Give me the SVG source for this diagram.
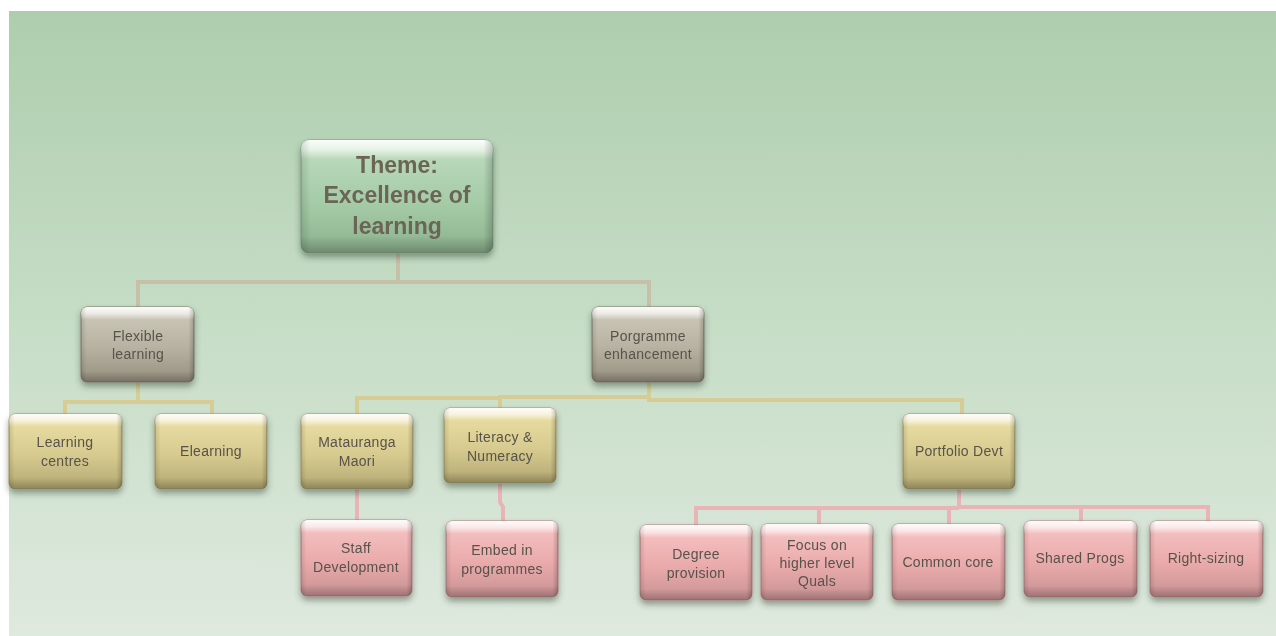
<svg xmlns="http://www.w3.org/2000/svg" width="1276" height="636" viewBox="0 0 1276 636">
  <defs>
    <linearGradient id="bg" x1="0" y1="0" x2="0" y2="1">
      <stop offset="0" stop-color="#aecdae"/>
      <stop offset="0.5" stop-color="#c6ddc6"/>
      <stop offset="1" stop-color="#dfe9de"/>
    </linearGradient>
    <linearGradient id="gGreen" x1="0" y1="0" x2="0" y2="1">
      <stop offset="0" stop-color="#c0dec2"/>
      <stop offset="0.55" stop-color="#a5cba7"/>
      <stop offset="1" stop-color="#8cb18e"/>
    </linearGradient>
    <linearGradient id="gGray" x1="0" y1="0" x2="0" y2="1">
      <stop offset="0" stop-color="#d0ccbc"/>
      <stop offset="0.55" stop-color="#b6b1a0"/>
      <stop offset="1" stop-color="#96907f"/>
    </linearGradient>
    <linearGradient id="gYellow" x1="0" y1="0" x2="0" y2="1">
      <stop offset="0" stop-color="#ece1a6"/>
      <stop offset="0.55" stop-color="#d6ca8f"/>
      <stop offset="1" stop-color="#b3a872"/>
    </linearGradient>
    <linearGradient id="gPink" x1="0" y1="0" x2="0" y2="1">
      <stop offset="0" stop-color="#f7c6c6"/>
      <stop offset="0.55" stop-color="#eaaaab"/>
      <stop offset="1" stop-color="#c89293"/>
    </linearGradient>
    <!-- glossy bevel overlay shared by all boxes -->
    <linearGradient id="gloss" x1="0" y1="0" x2="0" y2="1">
      <stop offset="0" stop-color="#ffffff" stop-opacity="0.95"/>
      <stop offset="0.09" stop-color="#ffffff" stop-opacity="0.6"/>
      <stop offset="0.17" stop-color="#ffffff" stop-opacity="0"/>
      <stop offset="0.85" stop-color="#000000" stop-opacity="0"/>
      <stop offset="1" stop-color="#000000" stop-opacity="0.22"/>
    </linearGradient>
    <linearGradient id="sideGloss" x1="0" y1="0" x2="1" y2="0">
      <stop offset="0" stop-color="#000000" stop-opacity="0.12"/>
      <stop offset="0.05" stop-color="#000000" stop-opacity="0"/>
      <stop offset="0.95" stop-color="#000000" stop-opacity="0"/>
      <stop offset="1" stop-color="#000000" stop-opacity="0.2"/>
    </linearGradient>
    <filter id="shadow" x="-20%" y="-20%" width="140%" height="150%">
      <feDropShadow dx="0" dy="4" stdDeviation="3" flood-color="#2c3a2c" flood-opacity="0.45"/>
    </filter>
  </defs>
  <style>
    .box { filter: url(#shadow); }
    .gloss { fill: url(#gloss); }
    .side { fill: url(#sideGloss); }
    .green .base { fill: url(#gGreen); stroke: #7f9f80; stroke-width: 1; }
    .gray .base { fill: url(#gGray); stroke: #7f7a6c; stroke-width: 1; }
    .yellow .base { fill: url(#gYellow); stroke: #a09562; stroke-width: 1; }
    .pink .base { fill: url(#gPink); stroke: #b07e80; stroke-width: 1; }
    text { font-family: "Liberation Sans", Arial, sans-serif; text-anchor: middle; fill: #57534a; font-size: 14px; letter-spacing: 0.3px; }
    .title { font-size: 23px; font-weight: bold; fill: #6b6554; letter-spacing: 0; }
    .conn { fill: none; stroke-width: 4; stroke-linejoin: miter; }
    .c1 { stroke: #c6c0a9; }
    .c2 { stroke: #d7cc94; }
    .c3 { stroke: #e9b4b5; }
  </style>

  <rect x="9" y="11" width="1267" height="625" fill="url(#bg)"/>

  <g id="connectors">
    <path class="conn c1" d="M398 253 V282 M138 308 V282 H649 V308"/>
    <path class="conn c2" d="M138 382 V402 M65 414 V402 H212 V414"/>
    <path class="conn c2" d="M649 382 V397 M357 414 V398 H500 M500 408 V397 H649 V400 H962 V414"/>
    <path class="conn c3" d="M357 489 V521"/>
    <path class="conn c3" d="M500 483 V502 L503 507 V521"/>
    <path class="conn c3" d="M959 489 V507 M696 525 V508 H959 M819 524 V508 M949 524 V508 M959 507 H1208 V521 M1081 521 V507"/>
  </g>

  <g id="theme" class="box green">
    <rect class="base" x="301" y="140" width="192" height="113" rx="8"/>
    <rect class="gloss" x="301" y="140" width="192" height="113" rx="8"/>
    <rect class="side" x="301" y="140" width="192" height="113" rx="8"/>
    <text class="title" x="397" y="173">Theme:</text>
    <text class="title" x="397" y="203">Excellence of</text>
    <text class="title" x="397" y="234">learning</text>
  </g>

  <g id="flexible-learning" class="box gray">
    <rect class="base" x="81" y="307" width="113" height="75" rx="6"/>
    <rect class="gloss" x="81" y="307" width="113" height="75" rx="6"/>
    <rect class="side" x="81" y="307" width="113" height="75" rx="6"/>
    <text x="138" y="341">Flexible</text>
    <text x="138" y="359">learning</text>
  </g>

  <g id="programme-enhancement" class="box gray">
    <rect class="base" x="592" y="307" width="112" height="75" rx="6"/>
    <rect class="gloss" x="592" y="307" width="112" height="75" rx="6"/>
    <rect class="side" x="592" y="307" width="112" height="75" rx="6"/>
    <text x="648" y="341">Porgramme</text>
    <text x="648" y="359" letter-spacing="0">enhancement</text>
  </g>

  <g id="learning-centres" class="box yellow">
    <rect class="base" x="9" y="414" width="113" height="75" rx="6"/>
    <rect class="gloss" x="9" y="414" width="113" height="75" rx="6"/>
    <rect class="side" x="9" y="414" width="113" height="75" rx="6"/>
    <text x="65" y="447">Learning</text>
    <text x="65" y="466">centres</text>
  </g>

  <g id="elearning" class="box yellow">
    <rect class="base" x="155" y="414" width="112" height="75" rx="6"/>
    <rect class="gloss" x="155" y="414" width="112" height="75" rx="6"/>
    <rect class="side" x="155" y="414" width="112" height="75" rx="6"/>
    <text x="211" y="456">Elearning</text>
  </g>

  <g id="matauranga-maori" class="box yellow">
    <rect class="base" x="301" y="414" width="112" height="75" rx="6"/>
    <rect class="gloss" x="301" y="414" width="112" height="75" rx="6"/>
    <rect class="side" x="301" y="414" width="112" height="75" rx="6"/>
    <text x="357" y="447">Matauranga</text>
    <text x="357" y="466">Maori</text>
  </g>

  <g id="literacy-numeracy" class="box yellow">
    <rect class="base" x="444" y="408" width="112" height="75" rx="6"/>
    <rect class="gloss" x="444" y="408" width="112" height="75" rx="6"/>
    <rect class="side" x="444" y="408" width="112" height="75" rx="6"/>
    <text x="500" y="442">Literacy &amp;</text>
    <text x="500" y="461">Numeracy</text>
  </g>

  <g id="portfolio-devt" class="box yellow">
    <rect class="base" x="903" y="414" width="112" height="75" rx="6"/>
    <rect class="gloss" x="903" y="414" width="112" height="75" rx="6"/>
    <rect class="side" x="903" y="414" width="112" height="75" rx="6"/>
    <text x="959" y="456" letter-spacing="0">Portfolio Devt</text>
  </g>

  <g id="staff-development" class="box pink">
    <rect class="base" x="301" y="520" width="111" height="76" rx="6"/>
    <rect class="gloss" x="301" y="520" width="111" height="76" rx="6"/>
    <rect class="side" x="301" y="520" width="111" height="76" rx="6"/>
    <text x="356" y="553">Staff</text>
    <text x="356" y="572" letter-spacing="0">Development</text>
  </g>

  <g id="embed-in-programmes" class="box pink">
    <rect class="base" x="446" y="521" width="112" height="76" rx="6"/>
    <rect class="gloss" x="446" y="521" width="112" height="76" rx="6"/>
    <rect class="side" x="446" y="521" width="112" height="76" rx="6"/>
    <text x="502" y="555">Embed in</text>
    <text x="502" y="574">programmes</text>
  </g>

  <g id="degree-provision" class="box pink">
    <rect class="base" x="640" y="525" width="112" height="75" rx="6"/>
    <rect class="gloss" x="640" y="525" width="112" height="75" rx="6"/>
    <rect class="side" x="640" y="525" width="112" height="75" rx="6"/>
    <text x="696" y="559">Degree</text>
    <text x="696" y="578">provision</text>
  </g>

  <g id="focus-higher-quals" class="box pink">
    <rect class="base" x="761" y="524" width="112" height="76" rx="6"/>
    <rect class="gloss" x="761" y="524" width="112" height="76" rx="6"/>
    <rect class="side" x="761" y="524" width="112" height="76" rx="6"/>
    <text x="817" y="550">Focus on</text>
    <text x="817" y="568" letter-spacing="0">higher level</text>
    <text x="817" y="586">Quals</text>
  </g>

  <g id="common-core" class="box pink">
    <rect class="base" x="892" y="524" width="113" height="76" rx="6"/>
    <rect class="gloss" x="892" y="524" width="113" height="76" rx="6"/>
    <rect class="side" x="892" y="524" width="113" height="76" rx="6"/>
    <text x="948" y="567" letter-spacing="0">Common core</text>
  </g>

  <g id="shared-progs" class="box pink">
    <rect class="base" x="1024" y="521" width="113" height="76" rx="6"/>
    <rect class="gloss" x="1024" y="521" width="113" height="76" rx="6"/>
    <rect class="side" x="1024" y="521" width="113" height="76" rx="6"/>
    <text x="1080" y="563" letter-spacing="0">Shared Progs</text>
  </g>

  <g id="right-sizing" class="box pink">
    <rect class="base" x="1150" y="521" width="113" height="76" rx="6"/>
    <rect class="gloss" x="1150" y="521" width="113" height="76" rx="6"/>
    <rect class="side" x="1150" y="521" width="113" height="76" rx="6"/>
    <text x="1206" y="563">Right-sizing</text>
  </g>
</svg>
